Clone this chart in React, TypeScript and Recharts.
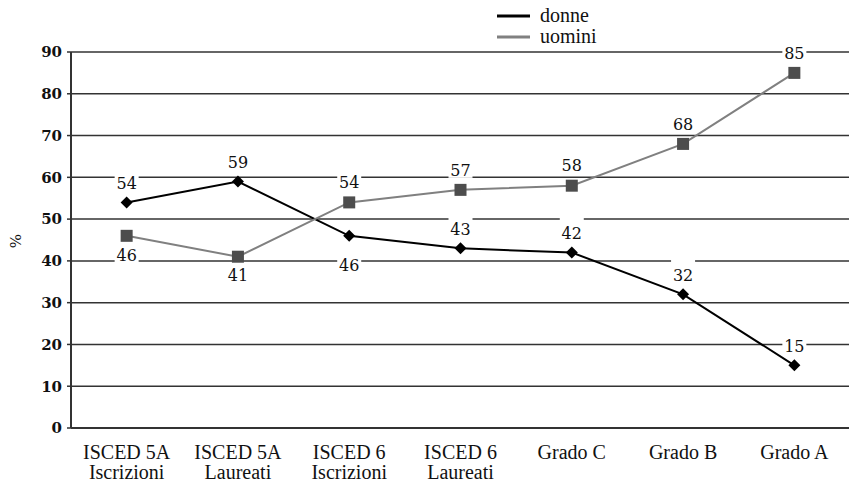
import { CartesianGrid, LabelList, Legend, Line, LineChart, XAxis, YAxis } from "recharts";

const categoryTop = ["ISCED 5A", "ISCED 5A", "ISCED 6", "ISCED 6", "Grado C", "Grado B", "Grado A"];
const categoryBottom = ["Iscrizioni", "Laureati", "Iscrizioni", "Laureati", "", "", ""];

const donne = [54, 59, 46, 43, 42, 32, 15];
const uomini = [46, 41, 54, 57, 58, 68, 85];

const yTicks = [0, 10, 20, 30, 40, 50, 60, 70, 80, 90];
const bandEdges = [0, 1, 2, 3, 4, 5, 6, 7];
const bandCentres = [0.5, 1.5, 2.5, 3.5, 4.5, 5.5, 6.5];

const data = categoryTop.map((_, i) => ({ x: bandCentres[i], donne: donne[i], uomini: uomini[i] }));

const TEXT_FONT = "Liberation Serif, serif";
const NUM_FONT = "DejaVu Serif, serif";
const INK = "#333";

function CategoryTick({ x, y, payload }: any) {
  const i = bandCentres.indexOf(payload.value);
  return (
    <text x={x} textAnchor="middle" fontFamily={TEXT_FONT} fontSize={20} fill="#111">
      <tspan x={x} y={y + 25}>{categoryTop[i]}</tspan>
      {categoryBottom[i] ? <tspan x={x} y={y + 45}>{categoryBottom[i]}</tspan> : null}
    </text>
  );
}

function Diamond({ cx, cy }: any) {
  return <polygon points={`${cx},${cy - 6} ${cx + 6},${cy} ${cx},${cy + 6} ${cx - 6},${cy}`} fill="#000" />;
}

function Square({ cx, cy }: any) {
  return <rect x={cx - 6} y={cy - 6} width={12} height={12} fill="#4d4d4d" />;
}

// value tag with a white box that knocks out the gridline behind it
function makeTag(below: number[], belowGap: number, aboveGap: number, padTop: number) {
  return (props: any) => {
    const { index, value } = props;
    const x = props.x ?? props.viewBox?.x;
    const y = props.y ?? props.viewBox?.y;
    const cy = below.includes(index) ? y + belowGap : y - aboveGap;
    return (
      <g key={`tag-${index}`}>
        <rect x={x - 12} y={cy - 7 - padTop} width={24} height={15 + padTop} fill="#fff" />
        <text x={x} y={cy} dy="0.36em" textAnchor="middle" fontFamily={NUM_FONT} fontSize={16} fill="#111">
          {value}
        </text>
      </g>
    );
  };
}

function LegendBox({ payload }: any) {
  const items = payload ?? [];
  return (
    <svg width={140} height={48} style={{ display: "block" }}>
      {items.map((p: any, i: number) => (
        <g key={p.value}>
          <line x1={2} x2={35} y1={16 + i * 21} y2={16 + i * 21} stroke={p.color} strokeWidth={3} />
          <text x={45} y={16 + i * 21} dy="0.3em" fontFamily={TEXT_FONT} fontSize={20} fill="#111">
            {p.value}
          </text>
        </g>
      ))}
    </svg>
  );
}

export default function App() {
  return (
    <div style={{ position: "absolute", left: 0, top: 0, width: 849, height: 484, overflow: "hidden", background: "#fff" }}>
      <LineChart width={870} height={484} data={data} margin={{ top: 52, right: 20, bottom: 0, left: 0 }}>
        <CartesianGrid xAxisId="band" vertical={false} stroke={INK} strokeWidth={1.5} />
        <XAxis
          xAxisId="band"
          type="number"
          dataKey="x"
          domain={[0, 7]}
          ticks={bandEdges}
          interval={0}
          tick={false}
          tickSize={6}
          height={6}
          axisLine={{ stroke: INK, strokeWidth: 2 }}
          tickLine={{ stroke: INK, strokeWidth: 1.5 }}
        />
        <XAxis
          xAxisId="names"
          type="number"
          dataKey="x"
          domain={[0, 7]}
          ticks={bandCentres}
          interval={0}
          tickSize={0}
          tickMargin={0}
          height={50}
          axisLine={false}
          tickLine={false}
          tick={<CategoryTick />}
        />
        <YAxis
          domain={[0, 90]}
          ticks={yTicks}
          interval={0}
          width={71}
          tickSize={4}
          tickMargin={5}
          axisLine={{ stroke: INK, strokeWidth: 2 }}
          tickLine={{ stroke: INK, strokeWidth: 1.5 }}
          tick={{ fontFamily: NUM_FONT, fontWeight: "bold", fontSize: 15, fill: "#111" }}
          label={() => (
            <text
              x={16}
              y={241}
              transform="rotate(-90 16 241)"
              textAnchor="middle"
              dy="0.36em"
              fontFamily={NUM_FONT}
              fontSize={15}
              fill="#111"
            >
              %
            </text>
          )}
        />
        <Legend
          layout="vertical"
          align="center"
          verticalAlign="middle"
          wrapperStyle={{ top: 0, left: 495, width: 140 }}
          content={<LegendBox />}
        />
        <Line
          xAxisId="band"
          dataKey="donne"
          name="donne"
          stroke="#000"
          strokeWidth={2}
          dot={(p: any) => <Diamond key={`d-${p.index}`} {...p} />}
          activeDot={false}
          isAnimationActive={false}
        >
          <LabelList dataKey="donne" content={makeTag([2], 29, 19, 9)} />
        </Line>
        <Line
          xAxisId="band"
          dataKey="uomini"
          name="uomini"
          stroke="#808080"
          strokeWidth={2}
          dot={(p: any) => <Square key={`u-${p.index}`} {...p} />}
          activeDot={false}
          isAnimationActive={false}
        >
          <LabelList dataKey="uomini" content={makeTag([0, 1], 19, 20, 0)} />
        </Line>
      </LineChart>
    </div>
  );
}
